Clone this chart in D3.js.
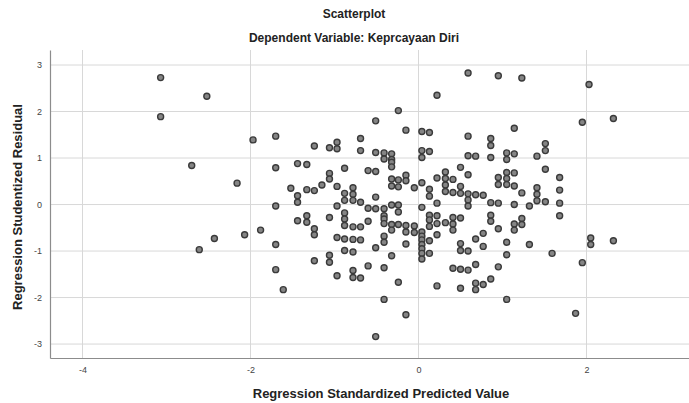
<!DOCTYPE html>
<html>
<head>
<meta charset="utf-8">
<script src="https://cdn.jsdelivr.net/npm/d3@7"></script>
<style>
    body { margin: 0; background: #fff; }
    svg { display: block; font-family: "Liberation Sans", Arial, sans-serif; }
</style>
</head>
<body>
<svg width="689" height="403"></svg>
<script>
// Regression Standardized Predicted Value (ось X)
const predicted = [
    -3.07, -2.52, -3.07, -1.97, -1.70, -2.70, -1.70, -1.44, -2.16, -1.52, -1.44, -1.44, -1.70,
    -1.44, -1.88, -2.07, -2.43, -2.61, -1.70, -1.70, -1.61,
    0.22, -0.24, -0.51, -0.15, 0.04, 0.13, -0.69, -0.97, -1.24, -1.06, -0.97, -0.69, -0.51, -0.41,
    -0.32, 0.04, 0.13, -0.41, -0.32, 0.04, -0.32, -0.32, -1.33, -0.88, -0.60, -0.51, -1.06, -1.06,
    -0.15, -0.32, -0.24, -0.15, 0.22, 0.04, -1.15, -1.33, -1.24, -0.97, -0.78, -0.32, -0.24, -0.05,
    0.13, -0.88, -0.78, 0.13, -0.88, -0.78, -0.69, -0.97, -0.51, -0.32, -0.24, -0.60, -0.51, -0.41,
    0.04, 0.22,
    -0.24, -0.41, -0.41, -0.41, 0.13, 0.13, 0.13, 0.22, 0.22, 0.22, -1.33, -1.33, -1.06, -0.88,
    -0.88, -0.88, -0.78, -0.69, -0.60, -0.32, -0.32, -0.24, -0.15, -0.15, -0.05, -0.05, 0.04, 0.04,
    0.04, 0.04, 0.04, 0.04, 0.04, 0.13, 0.13, -1.24, -1.24, -0.97, -0.88, -0.78, -0.69, -0.41,
    -0.41, -0.15, -0.51, -0.88, -0.78, -1.06, -1.06, -1.24, -0.32, -0.60, -0.41, -0.78, -0.78, -0.69,
    -0.97, -0.24, 0.22, -0.41, -0.15, -0.51,
    0.59, 0.95, 1.23, 2.03, 1.95, 1.14, 0.59, 0.86, 0.86, 1.51, 1.51, 0.59, 0.68, 0.86, 1.05, 1.05,
    1.14, 1.41, 0.50, 0.59, 1.51, 0.32, 0.32, 0.32, 0.32, 0.41, 0.41, 0.50, 0.50, 0.59, 0.59, 0.59,
    0.68, 0.77, 0.95, 0.95, 1.05, 1.05, 1.05, 1.14, 1.14, 1.23, 1.41, 1.41, 1.41, 1.51, 1.68, 1.68,
    1.68, 0.86, 0.95, 1.14, 1.32,
    1.68, 0.32, 0.41, 0.41, 0.41, 0.50, 0.86, 0.86, 0.95, 1.14, 1.14, 1.23, 1.23, 0.50, 0.50, 0.59,
    0.68, 0.77, 0.77, 1.05, 1.05, 1.32, 1.59, 1.95, 0.41, 0.50, 0.59, 0.68, 0.95, 0.50, 0.68, 0.68,
    0.77, 0.86, 1.05, 1.87,
    2.32, 2.05, 2.05, 2.32
];

// Regression Studentized Residual (ось Y)
const residual = [
    2.73, 2.33, 1.89, 1.39, 1.47, 0.84, 0.79, 0.88, 0.46, 0.35, 0.19, 0.05, -0.03,
    -0.35, -0.55, -0.65, -0.73, -0.97, -0.86, -1.40, -1.83,
    2.35, 2.02, 1.80, 1.60, 1.57, 1.55, 1.42, 1.34, 1.26, 1.22, 1.20, 1.16, 1.12, 1.11,
    1.09, 1.16, 1.14, 0.98, 0.97, 1.01, 0.91, 0.81, 0.86, 0.78, 0.73, 0.71, 0.67, 0.55,
    0.63, 0.55, 0.53, 0.51, 0.57, 0.47, 0.42, 0.32, 0.30, 0.39, 0.36, 0.40, 0.38, 0.36,
    0.33, 0.24, 0.22, 0.18, 0.09, 0.09, 0.05, -0.03, 0.16, -0.01, -0.01, -0.08, -0.09, -0.09,
    -0.06, 0.03,
    -0.16, -0.24, -0.31, -0.41, -0.23, -0.33, -0.47, -0.24, -0.41, -0.65, -0.24, -0.38, -0.28, -0.18,
    -0.31, -0.45, -0.48, -0.48, -0.36, -0.43, -0.55, -0.43, -0.45, -0.59, -0.46, -0.60, -0.59, -0.68,
    -0.76, -0.86, -0.95, -1.05, -1.17, -0.78, -1.05, -0.52, -0.65, -0.71, -0.74, -0.75, -0.76, -0.68,
    -0.81, -0.85, -0.93, -0.99, -1.02, -1.09, -1.24, -1.21, -1.10, -1.32, -1.36, -1.42, -1.57, -1.58,
    -1.53, -1.67, -1.75, -2.04, -2.37, -2.84,
    2.83, 2.77, 2.72, 2.58, 1.77, 1.64, 1.47, 1.42, 1.27, 1.31, 1.16, 1.05, 1.04, 1.01, 1.11, 0.97,
    1.09, 1.04, 0.80, 0.64, 0.76, 0.70, 0.56, 0.42, 0.28, 0.54, 0.26, 0.39, 0.24, 0.23, 0.10, -0.03,
    0.21, 0.20, 0.58, 0.43, 0.69, 0.56, 0.43, 0.68, 0.40, 0.25, 0.36, 0.22, 0.08, 0.06, 0.58, 0.31,
    0.03, 0.04, 0.03, 0.00, -0.03,
    -0.24, -0.39, -0.28, -0.42, -0.55, -0.29, -0.23, -0.36, -0.52, -0.42, -0.55, -0.30, -0.43, -0.84, -0.99, -1.00,
    -0.74, -0.62, -0.90, -0.81, -1.08, -0.86, -1.05, -1.25, -1.37, -1.39, -1.41, -1.29, -1.34, -1.80, -1.69, -1.83,
    -1.72, -1.60, -2.04, -2.34,
    1.85, -0.72, -0.86, -0.78
];

const xTicks = [-4, -2, 0, 2];
const yTicks = [-3, -2, -1, 0, 1, 2, 3];

const chartTitle = "Scatterplot";
const chartSubtitle = "Dependent Variable: Keprcayaan Diri";
const xTitle = "Regression Standardized Predicted Value";
const yTitle = "Regression Studentized Residual";

function drawScatter() {
    let svg = d3.select("svg");

    // границы области графика
    const area = { left: 50, right: 689, top: 50, bottom: 358 };

    let scX = d3.scaleLinear()
        .domain([-4.387, 3.22])
        .range([area.left, area.right]);

    let scY = d3.scaleLinear()
        .domain([-3.30, 3.323])
        .range([area.bottom, area.top]);

    // сетка
    svg.append("g")
        .selectAll("line")
        .data(xTicks)
        .enter()
        .append("line")
        .attr("x1", d => scX(d)).attr("x2", d => scX(d))
        .attr("y1", area.top).attr("y2", area.bottom)
        .attr("stroke", "#d8d8d8").attr("stroke-width", 1);

    svg.append("g")
        .selectAll("line")
        .data(yTicks)
        .enter()
        .append("line")
        .attr("x1", area.left).attr("x2", area.right)
        .attr("y1", d => scY(d)).attr("y2", d => scY(d))
        .attr("stroke", "#d8d8d8").attr("stroke-width", 1);

    // оси (подписи с обычным дефисом, как в SPSS)
    const fmt = d => String(d);
    let axisX = d3.axisBottom(scX).tickValues(xTicks).tickFormat(fmt).tickSize(0).tickPadding(9);
    let axisY = d3.axisLeft(scY).tickValues(yTicks).tickFormat(fmt).tickSize(0).tickPadding(8);

    let gx = svg.append("g")
        .attr("transform", `translate(0, ${area.bottom})`)
        .call(axisX);
    let gy = svg.append("g")
        .attr("transform", `translate(${area.left}, 0)`)
        .call(axisY);

    [gx, gy].forEach(g => {
        g.select(".domain").attr("stroke", "#8c8c8c").attr("stroke-width", 1.2);
        g.selectAll("text")
            .attr("font-size", 9)
            .attr("fill", "#444")
            .attr("font-family", "'Liberation Sans', Arial, sans-serif");
    });

    // точки
    svg.append("g")
        .selectAll("circle")
        .data(predicted.map((x, i) => ({ x: x, y: residual[i] })))
        .enter()
        .append("circle")
        .attr("cx", d => scX(d.x))
        .attr("cy", d => scY(d.y))
        .attr("r", 3)
        .attr("fill", "#858585")
        .attr("stroke", "#3a3a3a")
        .attr("stroke-width", 1.4);

    // заголовки
    svg.append("text")
        .attr("x", 354).attr("y", 18)
        .attr("text-anchor", "middle")
        .attr("font-size", 12).attr("font-weight", "bold").attr("fill", "#222")
        .text(chartTitle);

    svg.append("text")
        .attr("x", 354).attr("y", 42)
        .attr("text-anchor", "middle")
        .attr("font-size", 12).attr("font-weight", "bold").attr("fill", "#222")
        .text(chartSubtitle);

    svg.append("text")
        .attr("x", 381).attr("y", 398)
        .attr("text-anchor", "middle")
        .attr("font-size", 13).attr("font-weight", "bold").attr("fill", "#222")
        .text(xTitle);

    svg.append("text")
        .attr("transform", "translate(22, 207) rotate(-90)")
        .attr("text-anchor", "middle")
        .attr("font-size", 13).attr("font-weight", "bold").attr("fill", "#222")
        .text(yTitle);
}

drawScatter();
</script>
</body>
</html>
